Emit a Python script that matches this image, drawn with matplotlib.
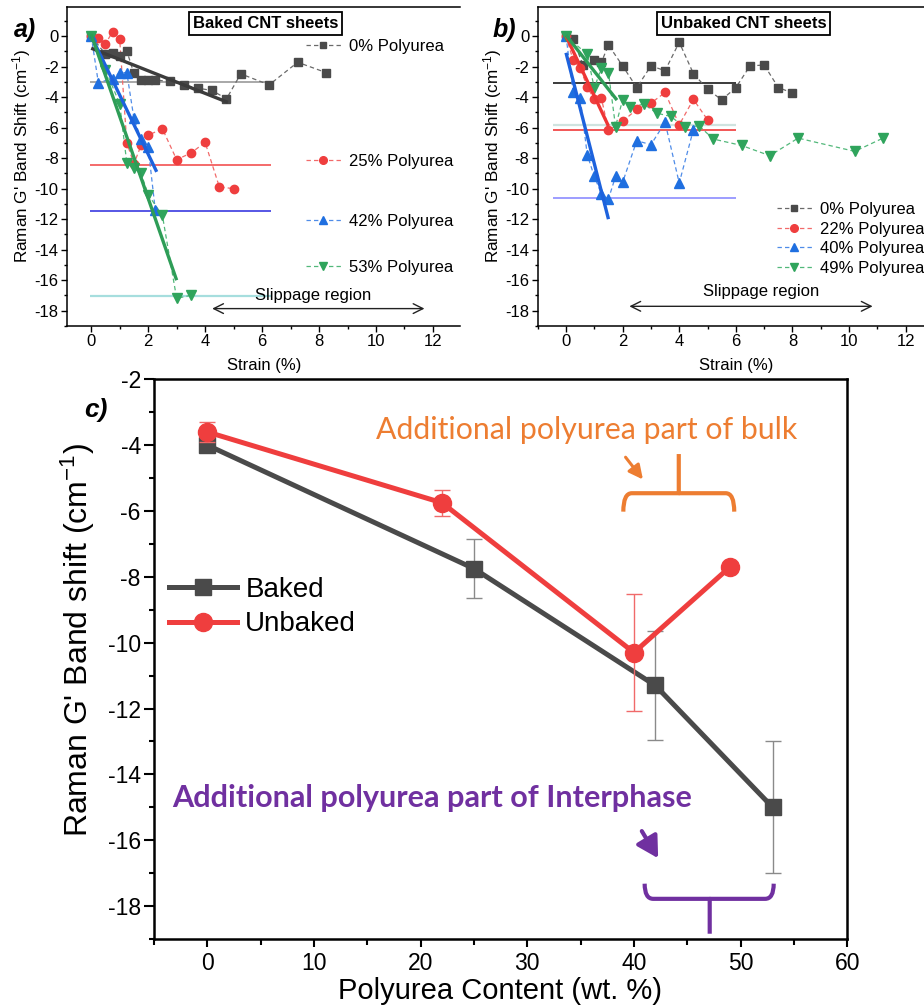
import matplotlib
matplotlib.use("Agg")
import matplotlib.pyplot as plt
from matplotlib.legend import Legend
from matplotlib.patches import FancyArrowPatch, PathPatch
from matplotlib.path import Path
from matplotlib.ticker import MultipleLocator

plt.rcParams['font.family'] = ['Liberation Sans', 'DejaVu Sans']
plt.rcParams['mathtext.fontset'] = 'custom'
plt.rcParams['mathtext.rm'] = 'Liberation Sans'
plt.rcParams['mathtext.it'] = 'Liberation Sans:italic'
plt.rcParams['mathtext.bf'] = 'Liberation Sans:bold'

# ---------------- (a) baked CNT sheets ----------------
a_labels = ["0% Polyurea", "25% Polyurea", "42% Polyurea", "53% Polyurea"]
a_strain = [
    [0, 0.5, 0.75, 1.0, 1.25, 1.5, 1.75, 2.0, 2.25, 2.75, 3.25, 3.75, 4.25, 4.75, 5.25, 6.25, 7.25, 8.25],
    [0, 0.25, 0.5, 0.75, 1.0, 1.25, 1.5, 1.75, 2.0, 2.5, 3.0, 3.5, 4.0, 4.5, 5.0],
    [0, 0.25, 0.75, 1.0, 1.25, 1.5, 1.75, 2.0, 2.25],
    [0, 0.5, 1.0, 1.25, 1.5, 1.75, 2.0, 2.5, 3.0, 3.5],
]
a_shift = [
    [0, -1.2, -1.1, -1.3, -0.98, -2.45, -2.88, -2.88, -2.88, -2.98, -3.2, -3.42, -3.57, -4.12, -2.48, -3.2, -1.72, -2.4],
    [0, -0.11, -0.52, 0.28, -0.22, -7.0, -8.37, -7.17, -6.5, -6.08, -8.1, -7.67, -6.97, -9.89, -10.0],
    [0, -3.05, -2.8, -2.4, -2.4, -5.4, -6.75, -7.3, -11.4],
    [0, -2.2, -4.44, -8.32, -8.65, -9.0, -10.39, -11.76, -17.19, -16.99],
]
# linear fits of the initial slope (start/end strain and shift)
a_fit_strain = [[0, 4.8], None, [0, 2.3], [0, 3.0]]
a_fit_shift = [[-0.8, -4.35], None, [0, -8.9], [0.1, -16.0]]
# plateau levels
a_plateau = [-3.0, -8.45, -11.45, -17.05]

# ---------------- (b) unbaked CNT sheets ----------------
b_labels = ["0% Polyurea", "22% Polyurea", "40% Polyurea", "49% Polyurea"]
b_strain = [
    [0, 0.25, 0.6, 1.0, 1.25, 1.5, 2.0, 2.5, 3.0, 3.5, 4.0, 4.5, 5.0, 5.5, 6.0, 6.5, 7.0, 7.5, 8.0],
    [0, 0.25, 0.5, 0.75, 1.0, 1.25, 1.5, 2.0, 2.5, 3.0, 3.5, 4.0, 4.5, 5.0],
    [0, 0.25, 0.5, 0.75, 1.0, 1.25, 1.5, 1.75, 2.0, 2.5, 3.0, 3.5, 4.0, 4.5],
    [0, 0.75, 1.0, 1.25, 1.5, 1.75, 2.0, 2.25, 2.75, 3.2, 3.7, 4.2, 4.7, 5.2, 6.2, 7.2, 8.2, 10.2, 11.2],
]
b_shift = [
    [0, -0.22, -1.9, -1.57, -1.72, -0.59, -1.96, -3.38, -1.96, -2.27, -0.41, -2.46, -3.49, -4.18, -3.38, -1.96, -1.9, -3.38, -3.73],
    [0, -1.57, -2.07, -3.36, -4.14, -4.07, -6.19, -5.6, -4.8, -4.4, -3.7, -5.82, -4.15, -5.49],
    [0, -3.64, -4.03, -7.78, -9.2, -10.35, -10.68, -9.2, -9.59, -6.86, -7.12, -5.66, -9.63, -6.14],
    [0, -1.2, -3.42, -2.07, -2.4, -5.93, -4.18, -4.66, -4.47, -5.05, -5.27, -5.99, -5.88, -6.75, -7.17, -7.84, -6.69, -7.56, -6.69],
]
b_fit_strain = [None, [0, 1.5], [0, 1.5], [0, 1.8]]
b_fit_shift = [None, [0, -5.9], [-1.1, -12.0], [0.05, -4.2]]
b_plateau = [-3.05, -6.15, -10.6, -5.85]

# ---------------- (c) summary ----------------
content_baked = [0, 25, 42, 53]
shift_baked = [-4.0, -7.75, -11.3, -15.0]
err_baked = [0.1, 0.9, 1.65, 2.0]
content_unbaked = [0, 22, 40, 49]
shift_unbaked = [-3.6, -5.75, -10.3, -7.7]
err_unbaked = [0.3, 0.4, 1.77, 0.0]

markers = ['s', 'o', '^', 'v']
point_colors = ['#4a4a4a', '#ef3e3e', '#1f6fe0', '#2fa45c']
dash_colors = ['#6a6a6a', '#f26a6a', '#4f8ce8', '#52b87a']
fit_colors = ['#3c3c3c', '#ee3535', '#1d62dd', '#2e9d57']
a_plateau_colors = ['#9a9a9a', '#f25252', '#3a3ae0', '#a6dede']
b_plateau_colors = ['#1a1a1a', '#f03a3a', '#8c8cff', '#cfe3df']
marker_sizes = [5.5, 6.0, 6.5, 6.5]

W, H = 924, 1005
fig = plt.figure(figsize=(W / 100, H / 100), dpi=100)


def px_axes(l, t, r, b):
    return fig.add_axes([l / W, 1 - b / H, (r - l) / W, (b - t) / H])


axA = px_axes(67, 7, 460, 326)
axB = px_axes(537.7, 7, 934, 326)
axC = px_axes(154, 379.3, 847.3, 939)


def style_strain_axes(ax, xlim):
    ax.set_xlim(*xlim)
    ax.set_ylim(-19, 1.9)
    ax.spines['right'].set_visible(False)
    for s in ['left', 'bottom', 'top']:
        ax.spines[s].set_linewidth(1.1)
    ax.xaxis.set_major_locator(MultipleLocator(2))
    ax.xaxis.set_minor_locator(MultipleLocator(1))
    ax.yaxis.set_major_locator(MultipleLocator(2))
    ax.yaxis.set_minor_locator(MultipleLocator(1))
    ax.tick_params(which='major', direction='out', length=4.5, width=1.0, labelsize=12, pad=1.5)
    ax.tick_params(which='minor', direction='out', length=2.5, width=1.0)
    ax.tick_params(top=False, right=False)
    ax.set_xticks(range(0, 13, 2))
    ax.set_xticklabels([str(v) for v in range(0, 13, 2)])
    ax.set_yticks(range(0, -19, -2))
    ax.set_yticklabels([str(v) for v in range(0, -19, -2)])
    ax.set_xlabel("Strain (%)", fontsize=12)
    ax.set_ylabel("Raman G' Band Shift (cm$^{-1}$)", fontsize=12.3)


def draw_strain_panel(ax, strain, shift, fit_x, fit_y, plateau, plateau_colors, hspan):
    for i in range(4):
        ax.hlines(plateau[i], hspan[0], hspan[1], colors=plateau_colors[i],
                  linewidth=1.2 if i < 3 else 1.6, zorder=1)
    for i in range(4):
        ax.plot(strain[i], shift[i], linestyle=(0, (3.5, 2.5)), linewidth=0.9,
                color=dash_colors[i], zorder=2)
        ax.plot(strain[i], shift[i], linestyle='none', marker=markers[i],
                markersize=marker_sizes[i], color=point_colors[i], zorder=3)
    for i in range(4):
        if fit_x[i] is not None:
            ax.plot(fit_x[i], fit_y[i], color=fit_colors[i], linewidth=2.4,
                    solid_capstyle='butt', zorder=4)


def key_handle(i):
    return plt.Line2D([], [], linestyle=(0, (3.5, 2.5)), linewidth=0.9, color=dash_colors[i],
                      marker=markers[i], markersize=marker_sizes[i] - 0.5,
                      markerfacecolor=point_colors[i], markeredgecolor=point_colors[i])


# ---- panel (a)
style_strain_axes(axA, (-0.85, 12.95))
draw_strain_panel(axA, a_strain, a_shift, a_fit_strain, a_fit_shift, a_plateau,
                  a_plateau_colors, (-0.05, 6.3))
axA.xaxis.set_label_coords(0.502, -0.10)
axA.yaxis.set_label_coords(-0.087, 0.535)
a_key_y = [0.876, 0.515, 0.329, 0.184]
for i in range(4):
    leg = Legend(axA, [key_handle(i)], [a_labels[i]], loc='center left',
                 bbox_to_anchor=(0.608, a_key_y[i]), frameon=False, fontsize=12,
                 handlelength=2.1, handletextpad=0.5, borderpad=0, borderaxespad=0,
                 numpoints=1)
    axA.add_artist(leg)
axA.text(0.505, 0.948, "Baked CNT sheets", transform=axA.transAxes, ha='center', va='center',
         fontsize=12, fontweight='bold',
         bbox=dict(boxstyle='square,pad=0.22', facecolor='white', edgecolor='black', linewidth=1.3))
axA.text(7.8, -17.0, "Slippage region", ha='center', va='center', fontsize=12)
axA.add_patch(FancyArrowPatch((4.15, -17.86), (11.8, -17.86), arrowstyle='<->,head_length=0.5,head_width=0.25',
                              mutation_scale=14, linewidth=1.0, color='#222222'))

# ---- panel (b)
style_strain_axes(axB, (-1.0, 13.0))
draw_strain_panel(axB, b_strain, b_shift, b_fit_strain, b_fit_shift, b_plateau,
                  b_plateau_colors, (-0.45, 6.0))
axB.xaxis.set_label_coords(0.5, -0.10)
axB.yaxis.set_label_coords(-0.085, 0.535)
legB = Legend(axB, [key_handle(i) for i in range(4)], b_labels, loc='center left',
              bbox_to_anchor=(0.603, 0.273), frameon=False, fontsize=12,
              handlelength=2.1, handletextpad=0.5, borderpad=0, borderaxespad=0,
              labelspacing=0.27, numpoints=1)
axB.add_artist(legB)
axB.text(0.519, 0.948, "Unbaked CNT sheets", transform=axB.transAxes, ha='center', va='center',
         fontsize=12, fontweight='bold',
         bbox=dict(boxstyle='square,pad=0.22', facecolor='white', edgecolor='black', linewidth=1.3))
axB.text(6.91, -16.71, "Slippage region", ha='center', va='center', fontsize=12)
axB.add_patch(FancyArrowPatch((2.14, -17.71), (10.93, -17.71), arrowstyle='<->,head_length=0.5,head_width=0.25',
                              mutation_scale=14, linewidth=1.0, color='#222222'))

# ---- panel labels
fig.text(25 / W, 1 - 30 / H, "a)", fontsize=18, fontweight='bold', fontstyle='italic',
         ha='center', va='center')
fig.text(504 / W, 1 - 30 / H, "b)", fontsize=18, fontweight='bold', fontstyle='italic',
         ha='center', va='center')
fig.text(96 / W, 1 - 410 / H, "c)", fontsize=19, fontweight='bold', fontstyle='italic',
         ha='center', va='center')

# ---- panel (c)
axC.set_xlim(-5, 60)
axC.set_ylim(-19, -2)
for s in axC.spines.values():
    s.set_linewidth(1.8)
axC.xaxis.set_major_locator(MultipleLocator(10))
axC.xaxis.set_minor_locator(MultipleLocator(5))
axC.yaxis.set_major_locator(MultipleLocator(2))
axC.yaxis.set_minor_locator(MultipleLocator(1))
axC.set_yticks(range(-2, -19, -2))
axC.set_yticklabels([str(v) for v in range(-2, -19, -2)])
axC.set_xticks(range(0, 61, 10))
axC.tick_params(axis='y', which='major', direction='out', length=7.5, width=1.5, labelsize=16.5, pad=2)
axC.tick_params(axis='y', which='minor', direction='out', length=3.5, width=1.5)
axC.tick_params(axis='x', which='major', direction='out', length=6, width=1.5, labelsize=16.5, pad=3.5)
axC.tick_params(axis='x', which='minor', direction='out', length=4, width=1.5)

axC.errorbar(content_baked, shift_baked, yerr=err_baked, fmt='none', ecolor='#8a8a8a',
             elinewidth=1.0, capsize=6, capthick=1.0, zorder=2)
axC.plot(content_baked, shift_baked, color='#4a4a4a', linewidth=3.6, marker='s',
         markersize=11, label='Baked', zorder=3)
axC.errorbar(content_unbaked, shift_unbaked, yerr=err_unbaked, fmt='none', ecolor='#f06a6a',
             elinewidth=1.0, capsize=6, capthick=1.0, zorder=4)
axC.plot(content_unbaked, shift_unbaked, color='#ef3e3e', linewidth=3.6, marker='o',
         markersize=13, label='Unbaked', zorder=5)

legC = axC.legend(loc='center left', bbox_to_anchor=(0.0216, 0.593), frameon=False, fontsize=20,
                  handlelength=2.45, handletextpad=0.3, borderpad=0, borderaxespad=0,
                  labelspacing=0.3, numpoints=1)

axC.set_xlabel("Polyurea Content (wt. %)", fontsize=21)
axC.set_ylabel("Raman G' Band shift (cm$^{-1}$)", fontsize=23)
axC.xaxis.set_label_coords(0.499, -0.068)
axC.yaxis.set_label_coords(-0.082, 0.534)

orange = '#ed7d31'
purple = '#7030a0'
axC.text(35.6, -3.54, "Additional polyurea part of bulk", color=orange, fontsize=21.8,
         family=['Lato', 'DejaVu Sans'], ha='center', va='center')
axC.text(21.1, -14.73, "Additional polyurea part of Interphase", color=purple, fontsize=22.1,
         family=['Lato', 'DejaVu Sans'], fontweight='bold', ha='center', va='center')


def brace_path(x0, x1, xc, y_tip, y_bar, y_end):
    """Curly bracket: arms at x0/x1 ending at y_end, bar at y_bar, stem to y_tip at xc."""
    verts = [(x0, y_end), (x0, y_bar), (x0 + 0.8, y_bar),
             (xc, y_bar), (xc, y_tip), (xc, y_bar),
             (x1 - 0.8, y_bar), (x1, y_bar), (x1, y_end)]
    codes = [Path.MOVETO, Path.CURVE3, Path.CURVE3,
             Path.LINETO, Path.LINETO, Path.MOVETO,
             Path.LINETO, Path.CURVE3, Path.CURVE3]
    return Path(verts, codes)


axC.add_patch(PathPatch(brace_path(39.0, 49.4, 44.2, -4.27, -5.46, -6.02), facecolor='none',
                        edgecolor=orange, linewidth=3.0, capstyle='butt', joinstyle='round'))
axC.add_patch(PathPatch(brace_path(41.0, 53.1, 47.1, -18.84, -17.78, -17.32), facecolor='none',
                        edgecolor=purple, linewidth=3.0, capstyle='butt', joinstyle='round'))
axC.add_patch(FancyArrowPatch((39.05, -4.30), (41.0, -5.11),
                              arrowstyle='-|>,head_length=0.6,head_width=0.3',
                              mutation_scale=14, linewidth=2.2, color=orange))
axC.add_patch(FancyArrowPatch((40.6, -15.65), (42.4, -16.62),
                              arrowstyle='-|>,head_length=0.8,head_width=0.45',
                              mutation_scale=16, linewidth=3.0, color=purple))

fig.savefig("out.png", dpi=100)
